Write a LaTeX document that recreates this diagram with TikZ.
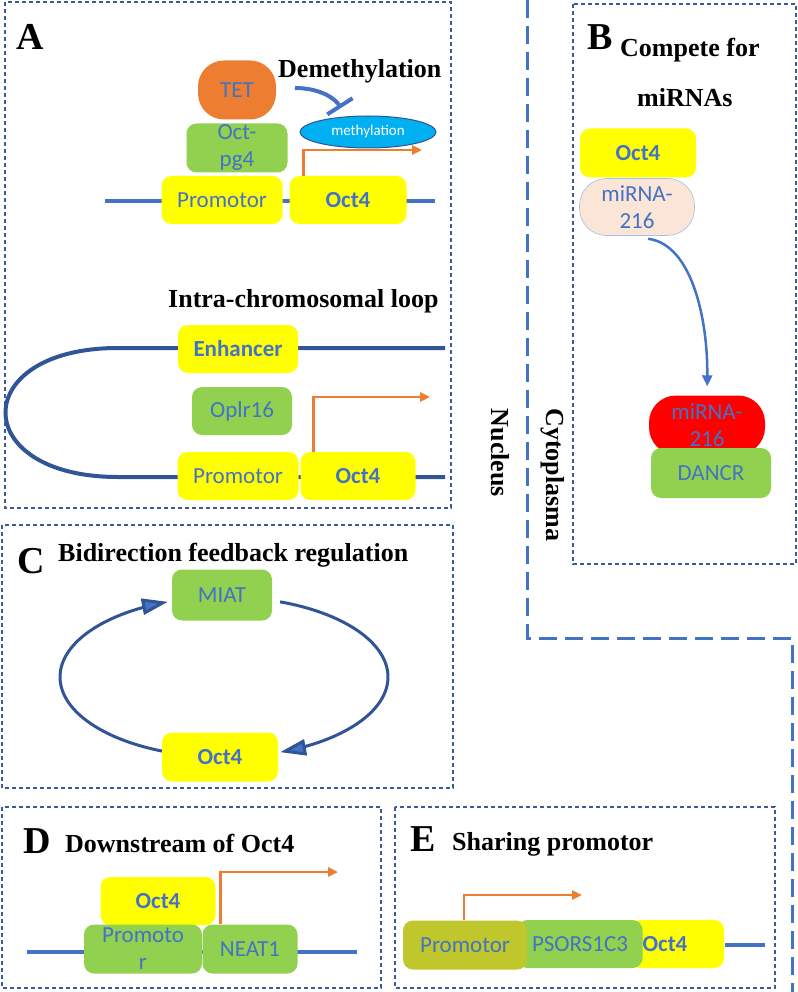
\documentclass[tikz,border=0pt]{standalone}
\usepackage{fontspec}
\setmainfont{Liberation Serif}
\newfontfamily\calfont{Carlito}
\usetikzlibrary{arrows.meta,shapes.geometric}
\definecolor{txtblue}{HTML}{4472C4}
\definecolor{dkblue}{HTML}{2F5597}
\definecolor{pnl}{HTML}{3A5A9A}
\definecolor{ylw}{HTML}{FFFF00}
\definecolor{grn}{HTML}{92D050}
\definecolor{orng}{HTML}{ED7D31}
\definecolor{cyn}{HTML}{00B0F0}
\definecolor{peach}{HTML}{FBE5D6}
\definecolor{lblue}{HTML}{9DC3E6}
\definecolor{olv}{HTML}{BFC72C}
\definecolor{rd}{HTML}{FF0000}
\tikzset{
  box/.style={rounded corners=10pt, inner sep=0pt, text=txtblue, align=center,
    font=\calfont\fontsize{23}{27}\selectfont},
  ybox/.style={box, fill=ylw, font=\calfont\bfseries\fontsize{23}{27}\selectfont},
  gbox/.style={box, fill=grn},
  panel/.style={draw=pnl, dash pattern=on 4pt off 3pt, line width=1.1pt},
  border/.style={draw=txtblue, dash pattern=on 18pt off 8pt, line width=3pt},
  ttl/.style={font=\bfseries\fontsize{26}{28}\selectfont, inner sep=0pt, anchor=base west},
  letter/.style={font=\bfseries\fontsize{38}{40}\selectfont, inner sep=0pt, anchor=base west},
  dna/.style={draw=txtblue, line width=4pt},
  loopline/.style={draw=dkblue, line width=4pt},
  txarrow/.style={draw=orng, line width=2.5pt, -{Triangle[length=10pt,width=9pt]}},
  fbarrow/.style={draw=dkblue, line width=3pt, -{Triangle[length=26pt,width=16pt,fill=txtblue]}},
}
\begin{document}
\begin{tikzpicture}[x=1pt,y=-1pt]
\useasboundingbox (0,0) rectangle (797,992);

% panels
\draw[panel] (5,2) rectangle (451,508);
\draw[panel] (573,4) rectangle (796,564);
\draw[panel] (2,525) rectangle (453,788);
\draw[panel] (2,807) rectangle (381,988);
\draw[panel] (395,807) rectangle (775,988);
\draw[border] (527,0) -- (527,638) -- (792,638) -- (792,992);

\node[font=\bfseries\fontsize{26}{28}\selectfont, rotate=-90, inner sep=0pt] (nuc) at (500,453) {Nucleus};
\node[font=\bfseries\fontsize{26}{28}\selectfont, rotate=-90, inner sep=0pt] (cyt) at (553,475) {Cytoplasma};

% ---------- Panel A ----------
\node[letter] (lA) at (16,50) {A};
\node[ttl] (tDem) at (278,78) {Demethylation};
\coordinate (lA1) at (105,201);
\coordinate (lA2) at (435,201);
\draw[dna] (lA1) -- (lA2);
\node[box, fill=orng, rounded corners=26pt, minimum width=78pt, minimum height=59pt] (tet) at (237,90) {TET};
\node[gbox, minimum width=101pt, minimum height=49pt] (opg) at (237,148) {Oct-\\pg4};
\node[draw=dkblue, line width=1pt, fill=cyn, ellipse, inner sep=0pt, minimum width=136pt, minimum height=32pt,
      text=white, font=\calfont\fontsize{15}{17}\selectfont] (meth) at (368,132) {methylation};
\node[box, fill=ylw, minimum width=121pt, minimum height=48pt] (pA) at (222,200) {Promotor};
\node[ybox, minimum width=117pt, minimum height=48pt] (oA) at (348,200) {Oct4};
\coordinate (inhS) at (295,88);
\coordinate (inhE) at (341,108);
\draw[draw=txtblue, line width=4pt, -{Bar[width=30pt]}] (inhS) .. controls (318,88) and (334,97) .. (inhE);
\coordinate (tA) at (422,150);
\draw[txarrow] ([xshift=14pt]oA.north west) |- (tA);

\node[ttl] (tLoop) at (168,307) {Intra-chromosomal loop};
\coordinate (lp1) at (445,348);
\coordinate (lp2) at (118,348);
\coordinate (lp3) at (118,477);
\coordinate (lp4) at (445,477);
\draw[loopline] (lp1) -- (lp2) .. controls (-32,348) and (-32,477) .. (lp3) -- (lp4);
\node[ybox, minimum width=120pt, minimum height=48pt] (enh) at (238,349) {Enhancer};
\node[gbox, minimum width=100pt, minimum height=48pt] (opl) at (242,411) {Oplr16};
\node[box, fill=ylw, minimum width=121pt, minimum height=48pt] (pA2) at (238,476) {Promotor};
\node[ybox, minimum width=115pt, minimum height=48pt] (oA2) at (358,476) {Oct4};
\coordinate (tA2) at (430,397);
\draw[txarrow] ([xshift=13pt]oA2.north west) |- (tA2);

% ---------- Panel B ----------
\node[letter] (lB) at (587,50) {B};
\node[ttl] (tComp) at (620,57) {Compete for};
\node[ttl] (tMir) at (637,107) {miRNAs};
\node[ybox, minimum width=116pt, minimum height=49pt] (oB) at (638,153) {Oct4};
\node[box, fill=peach, draw=lblue, line width=0.6pt, rounded corners=27pt, minimum width=115pt, minimum height=57pt] (mir1) at (637,207) {miRNA-\\216};
\node[box, fill=rd, rounded corners=27pt, minimum width=116pt, minimum height=59pt] (mir2) at (707,425) {miRNA-\\216};
\node[gbox, minimum width=120pt, minimum height=50pt] (dancr) at (711,473) {DANCR};
\draw[draw=txtblue, line width=2.5pt, -{Triangle[length=11pt,width=10pt]}, shorten >=9pt]
  ([xshift=11pt,yshift=-3pt]mir1.south) .. controls (692,244) and (708,320) .. (mir2.north);

% ---------- Panel C ----------
\node[letter] (lC) at (17,573) {C};
\node[ttl] (tBid) at (58,561) {Bidirection feedback regulation};
\draw[fbarrow] plot[domain=112:250, samples=60] ({224+164*cos(\x)},{677+80*sin(\x)});
\draw[fbarrow] plot[domain=-70:70, samples=60] ({224+164*cos(\x)},{677+80*sin(\x)});
\node[gbox, minimum width=100pt, minimum height=51pt] (miat) at (222,595) {MIAT};
\node[ybox, minimum width=116pt, minimum height=49pt] (oC) at (220,757) {Oct4};

% ---------- Panel D ----------
\node[letter] (lD) at (23,853) {D};
\node[ttl] (tDown) at (65,852) {Downstream of Oct4};
\coordinate (lD1) at (27,952);
\coordinate (lD2) at (357,952);
\draw[dna] (lD1) -- (lD2);
\node[ybox, minimum width=115pt, minimum height=48pt] (oD) at (158,901) {Oct4};
\node[gbox, minimum width=118pt, minimum height=49pt] (pD) at (143,949) {Promoto\\r};
\node[gbox, minimum width=95pt, minimum height=49pt] (neat) at (250,949) {NEAT1};
\coordinate (tD) at (338,872);
\draw[txarrow] ([xshift=18pt]neat.north west) |- (tD);

% ---------- Panel E ----------
\node[letter] (lE) at (410,851) {E};
\node[ttl] (tShare) at (452,850) {Sharing promotor};
\coordinate (lE1) at (725,945);
\coordinate (lE2) at (765,945);
\draw[dna] (lE1) -- (lE2);
\node[ybox, minimum width=94pt, minimum height=48pt] (oE) at (677,944) {Oct4\hspace*{24pt}};
\node[gbox, minimum width=125pt, minimum height=48pt] (psors) at (580,944) {PSORS1C3};
\node[box, fill=olv, minimum width=124pt, minimum height=49pt] (pE) at (465,945) {Promotor};
\coordinate (tE) at (582,895);
\draw[txarrow] ([xshift=-1pt]pE.north) |- (tE);
\end{tikzpicture}
\end{document}
